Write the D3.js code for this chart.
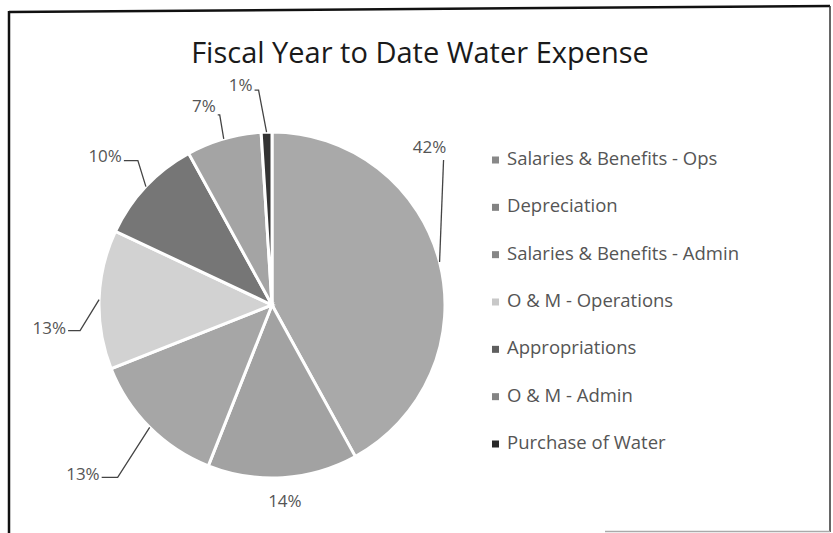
<!DOCTYPE html>
<html>
<head>
<meta charset="utf-8">
<script src="https://cdn.jsdelivr.net/npm/d3@7"></script>
<style>
  body { margin: 0; background: #fff; }
  text { font-family: "Open Sans", sans-serif; }
</style>
</head>
<body>
<div id="chart"></div>
<script>
// Chart data
const categories = [
    "Salaries & Benefits - Ops",
    "Depreciation",
    "Salaries & Benefits - Admin",
    "O & M - Operations",
    "Appropriations",
    "O & M - Admin",
    "Purchase of Water"
];
const values = [42, 14, 13, 13, 10, 7, 1];
const labels = ["42%", "14%", "13%", "13%", "10%", "7%", "1%"];
const sliceColors = ["#a9a9a9", "#a2a2a2", "#a6a6a6", "#d2d2d2", "#767676", "#a4a4a4", "#333333"];

// Label placement relative to the leader anchor (Excel "best fit" style)
const labelOffsets = [
    { dx: -10, dy: -114, elbow: [4, -102], anchor: "middle" },
    { dx: 2, dy: 25, elbow: null, anchor: "middle" },
    { dx: -52, dy: 48, elbow: [-32, 50], anchor: "end" },
    { dx: -35, dy: 30, elbow: [-19, 31], anchor: "end" },
    { dx: -26, dy: -29, elbow: [-8, -26], anchor: "end" },
    { dx: -10, dy: -31, elbow: [-4, -24], anchor: "end" },
    { dx: -16, dy: -46, elbow: [-8, -42], anchor: "end" }
];

const width = 833;
const height = 533;
const cx = 272, cy = 305, radius = 173;

const svg = d3.select("#chart")
    .append("svg")
    .attr("width", width)
    .attr("height", height);

// Frame lines (scanned border)
const frame = svg.append("g").attr("fill", "none");
frame.append("line").attr("x1", 9).attr("y1", 12).attr("x2", 830).attr("y2", 6)
    .attr("stroke", "#111").attr("stroke-width", 2.5);
frame.append("line").attr("x1", 9).attr("y1", 11).attr("x2", 9).attr("y2", 533)
    .attr("stroke", "#111").attr("stroke-width", 2.5);
frame.append("line").attr("x1", 830).attr("y1", 6).attr("x2", 830).attr("y2", 532)
    .attr("stroke", "#333").attr("stroke-width", 1.5);
frame.append("line").attr("x1", 605).attr("y1", 531.5).attr("x2", 830).attr("y2", 531.5)
    .attr("stroke", "#aaa").attr("stroke-width", 1.5);

// Title
svg.append("text")
    .attr("x", 420)
    .attr("y", 63)
    .attr("text-anchor", "middle")
    .attr("font-size", 29)
    .attr("fill", "#1a1a1a")
    .text("Fiscal Year to Date Water Expense");

// Pie
const pie = d3.pie().sort(null).value(d => d);
const arcs = pie(values);
const arc = d3.arc().innerRadius(0).outerRadius(radius);

const g = svg.append("g").attr("transform", `translate(${cx},${cy})`);

g.selectAll("path.slice")
    .data(arcs)
    .enter()
    .append("path")
    .attr("class", "slice")
    .attr("d", arc)
    .attr("fill", (d, i) => sliceColors[i])
    .attr("stroke", "#fff")
    .attr("stroke-width", 3);

// Labels with leader lines
arcs.forEach((d, i) => {
    const mid = (d.startAngle + d.endAngle) / 2;
    const ax = radius * Math.sin(mid);
    const ay = -radius * Math.cos(mid);
    const off = labelOffsets[i];
    const lx = ax + off.dx;
    const ly = ay + off.dy;

    if (off.elbow) {
        const ex = ax + off.elbow[0];
        const ey = ay + off.elbow[1];
        const pts = [[ax, ay], [ex, ey]];
        if (off.anchor === "end") pts.push([lx + 4, ey]);
        g.append("path")
            .attr("d", d3.line()(pts))
            .attr("fill", "none")
            .attr("stroke", "#444")
            .attr("stroke-width", 1.3);
    }

    g.append("text")
        .attr("x", off.anchor === "end" ? lx + 2 : lx)
        .attr("y", ly)
        .attr("text-anchor", off.anchor)
        .attr("dominant-baseline", "middle")
        .attr("font-size", 17)
        .attr("fill", "#555")
        .text(labels[i]);
});

// Legend
const legendY = d3.scalePoint()
    .domain(categories)
    .range([160, 444]);

const legend = svg.append("g");
legend.selectAll("rect")
    .data(categories)
    .enter()
    .append("rect")
    .attr("x", 492)
    .attr("y", d => legendY(d) - 3.5)
    .attr("width", 7)
    .attr("height", 7)
    .attr("fill", (d, i) => i === 3 ? "#c8c8c8" : d3.color(sliceColors[i]).darker(0.6));

legend.selectAll("text")
    .data(categories)
    .enter()
    .append("text")
    .attr("x", 507)
    .attr("y", d => legendY(d))
    .attr("dominant-baseline", "middle")
    .attr("font-size", 18.5)
    .attr("fill", "#555")
    .text(d => d);
</script>
</body>
</html>
